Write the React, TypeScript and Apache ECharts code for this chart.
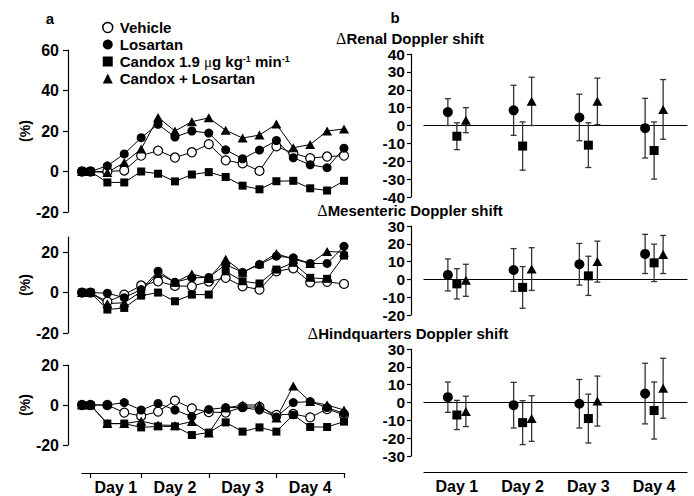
import React, { useEffect, useRef } from 'react';
import * as echarts from 'echarts';

const FONT = '"Liberation Sans", Arial, Helvetica, sans-serif';
const SERIF = '"Liberation Serif", "Times New Roman", serif';

// ---- Panel a: time course (x = sample index, first point is the pre-baseline) ----
const timeX = [-0.5, 0, 1, 2, 3, 4, 5, 6, 7, 8, 9, 10, 11, 12, 13, 14, 15];
const dayBounds = [0, 3, 7, 11, 15];
const dayLabels = ['Day 1', 'Day 2', 'Day 3', 'Day 4'];

// Renal
const renalVehicle = [0, 0, 0, 0.5, 7.8, 10.3, 6.9, 9.5, 13.5, 5.5, 4, 0.3, 12.4, 9, 6.6, 7.4, 7.8];
const renalLosartan = [0, 0, 2.8, 8.7, 16.7, 23.3, 17, 20, 19, 10.7, 6.3, 10.6, 15.3, 6.8, 3.3, 1.9, 11.5];
const renalCandox = [0, 0, -5.4, -5.4, 0, -1.1, -4.9, -1.5, -0.3, -2.7, -7, -8.8, -4.8, -4.6, -8.3, -9.4, -4.6];
const renalCandoxLos = [0, 0, -0.5, 4.4, 11.1, 26.7, 20, 24.6, 26.5, 20.4, 16.5, 18, 23.4, 11.7, 13.3, 20, 21];

// Mesenteric
const mesVehicle = [0, 0, -4.5, -1, 3.5, 5.6, 3.3, 3.1, 5.5, 7.3, 3.1, 1.5, 10.5, 12, 5.1, 5.3, 4.3];
const mesLosartan = [0, 0, -0.3, -2.5, 1.5, 10.6, 5.1, 7.3, 7.5, 13.9, 10, 13.9, 18, 17.2, 14.4, 14.4, 22.9];
const mesCandox = [0, 0, -8.4, -7.6, -1.5, 0, -4.3, -1, -1, 10.5, 5.6, 4.5, 11.4, 14.7, 7.3, 6.8, 18.3];
const mesCandoxLos = [0, 0, -5.5, -5, 0.5, 9.5, 5.1, 9.2, 7, 16.5, 10, 14.3, 19.3, 16.5, 14.4, 20.3, 20];

// Hindquarters
const hindVehicle = [0, 0, 0, -3.8, -5.5, -3.3, 2.2, -1.7, -3.5, -3.8, -1, -1, -5, -4.5, -6.2, -2, -5];
const hindLosartan = [0, 0, 0, 1.2, -2.5, 0.8, -2.5, -5.8, -2.2, -1.3, -1.3, -2.5, -6, 1.2, 1.7, -1.3, -4.2];
const hindCandox = [0, 0, -9.3, -9.3, -11.2, -10.7, -10.7, -15, -13.8, -8.7, -13.3, -11.2, -13.3, -4.9, -11, -11, -8.3];
const hindCandoxLos = [0, 0, -9.3, -9.3, -8, -10, -10.2, -8.3, -14, -1.5, 0, 0, -6.5, 9.5, 1.7, 0, -2.5];

// ---- Panel b: daily means ± error ----
const days = [1, 2, 3, 4];
const renalLosMean = [7.5, 8.5, 4.5, -1.5];
const renalLosErr = [7.5, 14, 13, 16.7];
const renalCanMean = [-6, -11.5, -11, -14];
const renalCanErr = [7.5, 13.5, 12.5, 16];
const renalCLMean = [3, 13.5, 13.5, 9];
const renalCLErr = [7, 13.5, 13, 16.7];

const mesLosMean = [2.5, 5.3, 8.5, 14.3];
const mesLosErr = [9, 12, 11.7, 11];
const mesCanMean = [-2.5, -4.5, 2, 9.3];
const mesCanErr = [8.5, 11.7, 11, 10.5];
const mesCLMean = [-0.5, 5.8, 10, 14];
const mesCLErr = [9, 12, 11.5, 10.7];

const hindLosMean = [3, -1.5, -0.7, 5];
const hindLosErr = [8.5, 12.8, 13.6, 17];
const hindCanMean = [-7, -11.3, -9, -4.5];
const hindCanErr = [8.2, 12.3, 13.7, 16];
const hindCLMean = [-5, -9, 0.8, 8];
const hindCLErr = [8.5, 12.8, 14, 16.8];

const leftTicks = [[-20, 0, 20, 40, 60], [-20, 0, 20], [-20, 0, 20]];

export default function App() {
  const ref = useRef<HTMLDivElement>(null);

  useEffect(() => {
    const chart = echarts.init(ref.current!, null, { renderer: 'svg' });
    const BLACK = '#000';
    const labelStyle = { color: BLACK, fontFamily: FONT, fontWeight: 'bold' as const, fontSize: 16 };

    const leftGrids = [
      { left: 82, right: 350, top: 50, height: 162 },
      { left: 82, right: 350, top: 237, height: 96 },
      { left: 82, right: 350, top: 365, height: 80 },
    ];
    const rightGrids = [
      { left: 424, right: 7, top: 54, height: 143 },
      { left: 424, right: 7, top: 226, height: 89 },
      { left: 424, right: 7, top: 349, height: 107 },
    ];
    const axisGrids = [
      { left: 82, right: 350, top: 472, height: 1 },
      { left: 424, right: 7, top: 471, height: 1 },
    ];
    const grid = [...leftGrids, ...rightGrids, ...axisGrids];

    const leftRanges = [[-20, 60], [-20, 27.5], [-20, 20]];
    const rightRanges = [[-40, 40], [-20, 30], [-30, 30]];

    const xAxis: any[] = [];
    const yAxis: any[] = [];
    for (let i = 0; i < 3; i++) {
      xAxis.push({ type: 'value', gridIndex: i, min: -0.5, max: 15, show: false });
      yAxis.push({
        type: 'value', gridIndex: i, min: leftRanges[i][0], max: leftRanges[i][1], offset: 14,
        axisLine: { show: true, onZero: false, lineStyle: { color: BLACK, width: 1.2 } },
        axisTick: { show: true, length: 5, customValues: leftTicks[i], lineStyle: { color: BLACK, width: 1.2 } },
        axisLabel: { ...labelStyle, customValues: leftTicks[i], margin: 9 },
        splitLine: { show: false },
        name: '(%)', nameLocation: 'middle', nameRotate: 90, nameGap: 35,
        nameTextStyle: { color: BLACK, fontFamily: FONT, fontWeight: 'bold', fontSize: 14 },
      });
    }
    for (let i = 0; i < 3; i++) {
      xAxis.push({
        type: 'value', gridIndex: 3 + i, min: 0.5, max: 4.5,
        axisLine: { show: true, onZero: true, lineStyle: { color: BLACK, width: 1.2 } },
        axisTick: { show: false }, axisLabel: { show: false }, splitLine: { show: false },
      });
      yAxis.push({
        type: 'value', gridIndex: 3 + i, min: rightRanges[i][0], max: rightRanges[i][1], interval: 10, offset: 13,
        axisLine: { show: true, onZero: false, lineStyle: { color: BLACK, width: 1.2 } },
        axisTick: { show: true, length: 4, lineStyle: { color: BLACK, width: 1.2 } },
        axisLabel: { ...labelStyle, fontSize: 15.5, lineHeight: 13, margin: 6 },
        splitLine: { show: false },
      });
    }
    const dayMid = dayLabels.map((_, i) => (dayBounds[i] + dayBounds[i + 1]) / 2);
    xAxis.push({
      type: 'value', gridIndex: 6, min: -0.5, max: 15,
      axisLine: { show: true, onZero: false, lineStyle: { color: BLACK, width: 1.2 } },
      axisTick: { show: true, length: 5, customValues: dayBounds, lineStyle: { color: BLACK, width: 1.2 } },
      axisLabel: { ...labelStyle, customValues: dayMid, margin: 6, formatter: (v: number) => dayLabels[dayMid.indexOf(v)] ?? '' },
      splitLine: { show: false },
    });
    yAxis.push({ type: 'value', gridIndex: 6, show: false });
    xAxis.push({
      type: 'value', gridIndex: 7, min: 0.5, max: 4.5,
      axisLine: { show: true, onZero: false, lineStyle: { color: BLACK, width: 1.2 } },
      axisTick: { show: false },
      axisLabel: { ...labelStyle, customValues: days, margin: 6, formatter: (v: number) => dayLabels[days.indexOf(v)] ?? '' },
      splitLine: { show: false },
    });
    yAxis.push({ type: 'value', gridIndex: 7, show: false });

    const symbolDefs: Record<string, any> = {
      'Vehicle': { symbol: 'circle', size: 9, itemStyle: { color: '#fff', borderColor: BLACK, borderWidth: 1.2, opacity: 1 } },
      'Losartan': { symbol: 'circle', size: 9, itemStyle: { color: BLACK, opacity: 1 } },
      'Candox': { symbol: 'rect', size: 8, itemStyle: { color: BLACK, opacity: 1 } },
      'Candox + Losartan': { symbol: 'triangle', size: [10, 9], itemStyle: { color: BLACK, opacity: 1 } },
    };

    const timeSets: [string, number[]][][] = [
      [['Vehicle', renalVehicle], ['Losartan', renalLosartan], ['Candox', renalCandox], ['Candox + Losartan', renalCandoxLos]],
      [['Vehicle', mesVehicle], ['Losartan', mesLosartan], ['Candox', mesCandox], ['Candox + Losartan', mesCandoxLos]],
      [['Vehicle', hindVehicle], ['Losartan', hindLosartan], ['Candox', hindCandox], ['Candox + Losartan', hindCandoxLos]],
    ];

    const series: any[] = [];
    timeSets.forEach((set, gi) => {
      set.forEach(([name, vals]) => {
        const d = symbolDefs[name];
        series.push({
          type: 'line', name, xAxisIndex: gi, yAxisIndex: gi,
          data: vals.map((v, k) => [timeX[k], v]),
          symbol: d.symbol, symbolSize: d.size, showAllSymbol: true,
          lineStyle: { color: BLACK, width: 1 },
          itemStyle: d.itemStyle,
          emphasis: { disabled: true },
        });
      });
    });

    const offset = 0.137;
    const dailySets: [string, number[], number[], number][][] = [
      [['Losartan', renalLosMean, renalLosErr, -offset], ['Candox', renalCanMean, renalCanErr, 0], ['Candox + Losartan', renalCLMean, renalCLErr, offset]],
      [['Losartan', mesLosMean, mesLosErr, -offset], ['Candox', mesCanMean, mesCanErr, 0], ['Candox + Losartan', mesCLMean, mesCLErr, offset]],
      [['Losartan', hindLosMean, hindLosErr, -offset], ['Candox', hindCanMean, hindCanErr, 0], ['Candox + Losartan', hindCLMean, hindCLErr, offset]],
    ];
    const rightSize: Record<string, any> = { 'Losartan': 10, 'Candox': 9, 'Candox + Losartan': [10, 9] };

    dailySets.forEach((set, pi) => {
      const ai = 3 + pi;
      set.forEach(([name, means, errs, off]) => {
        series.push({
          type: 'custom', name, xAxisIndex: ai, yAxisIndex: ai, z: 1, silent: true,
          data: means.map((m, k) => [days[k] + off, m - errs[k], m + errs[k]]),
          encode: { x: 0, y: [1, 2] },
          renderItem: (params: any, api: any) => {
            const x = api.value(0);
            const p1 = api.coord([x, api.value(2)]);
            const p2 = api.coord([x, api.value(1)]);
            const w = 3;
            const st = { stroke: '#333', lineWidth: 1.3 };
            return {
              type: 'group',
              children: [
                { type: 'line', shape: { x1: p1[0], y1: p1[1], x2: p2[0], y2: p2[1] }, style: st },
                { type: 'line', shape: { x1: p1[0] - w, y1: p1[1], x2: p1[0] + w, y2: p1[1] }, style: st },
                { type: 'line', shape: { x1: p2[0] - w, y1: p2[1], x2: p2[0] + w, y2: p2[1] }, style: st },
              ],
            };
          },
        });
        series.push({
          type: 'scatter', name, xAxisIndex: ai, yAxisIndex: ai, z: 3,
          data: means.map((m, k) => [days[k] + off, m]),
          symbol: symbolDefs[name].symbol, symbolSize: rightSize[name],
          itemStyle: { color: BLACK, opacity: 1 }, emphasis: { disabled: true },
        });
      });
    });

    const titleRich = {
      d: { fontFamily: SERIF, fontSize: 16, fontWeight: 'normal', fill: BLACK, color: BLACK, lineHeight: 13 },
      t: { fontFamily: FONT, fontSize: 15, fontWeight: 'bold', fill: BLACK, color: BLACK, lineHeight: 13 },
    };
    const mkTitle = (text: string, x: number, y: number) => ({
      type: 'text', x, y, silent: true,
      style: {
        text: `{d|Δ}{t|${text}}`, rich: titleRich,
        align: 'center', verticalAlign: 'middle', textAlign: 'center', textVerticalAlign: 'middle',
        fill: BLACK,
      },
    });
    const mkLetter = (text: string, x: number, y: number) => ({
      type: 'text', x, y, silent: true,
      style: { text, font: `bold 15px ${FONT}`, fill: BLACK, align: 'center', verticalAlign: 'middle', textAlign: 'center', textVerticalAlign: 'middle' },
    });

    const option: any = {
      animation: false,
      backgroundColor: '#fff',
      grid,
      xAxis,
      yAxis,
      legend: {
        orient: 'vertical', left: 97, top: 15, itemWidth: 10, itemHeight: 10, itemGap: 2,
        selectedMode: false,
        textStyle: {
          color: BLACK, fontFamily: FONT, fontWeight: 'bold', fontSize: 15, lineHeight: 15,
          padding: [0, 0, 0, 2],
          rich: {
            mu: { fontFamily: SERIF, fontSize: 15, fontWeight: 'normal', color: BLACK, lineHeight: 15 },
            sup: { fontFamily: FONT, fontSize: 9, fontWeight: 'bold', color: BLACK, verticalAlign: 'top', lineHeight: 9 },
          },
        },
        formatter: (name: string) => (name === 'Candox' ? 'Candox 1.9 {mu|μ}g kg{sup|-1} min{sup|-1}' : name),
        data: [
          { name: 'Vehicle', icon: 'circle', itemStyle: { color: '#fff', borderColor: BLACK, borderWidth: 1.5, opacity: 1 } },
          { name: 'Losartan', icon: 'circle', itemStyle: { color: BLACK, borderWidth: 0, opacity: 1 } },
          { name: 'Candox', icon: 'rect', itemStyle: { color: BLACK, borderWidth: 0, opacity: 1 } },
          { name: 'Candox + Losartan', icon: 'triangle', itemStyle: { color: BLACK, borderWidth: 0, opacity: 1 } },
        ],
      },
      graphic: [
        mkLetter('a', 50, 18),
        mkLetter('b', 395, 17),
        mkTitle('Renal Doppler shift', 410, 38),
        mkTitle('Mesenteric Doppler shift', 410, 210),
        mkTitle('Hindquarters Doppler shift', 408, 333),
      ],
      series,
    };
    chart.setOption(option);
    return () => chart.dispose();
  }, []);

  return <div ref={ref} style={{ position: 'absolute', left: 0, top: 0, width: 694, height: 496 }} />;
}
